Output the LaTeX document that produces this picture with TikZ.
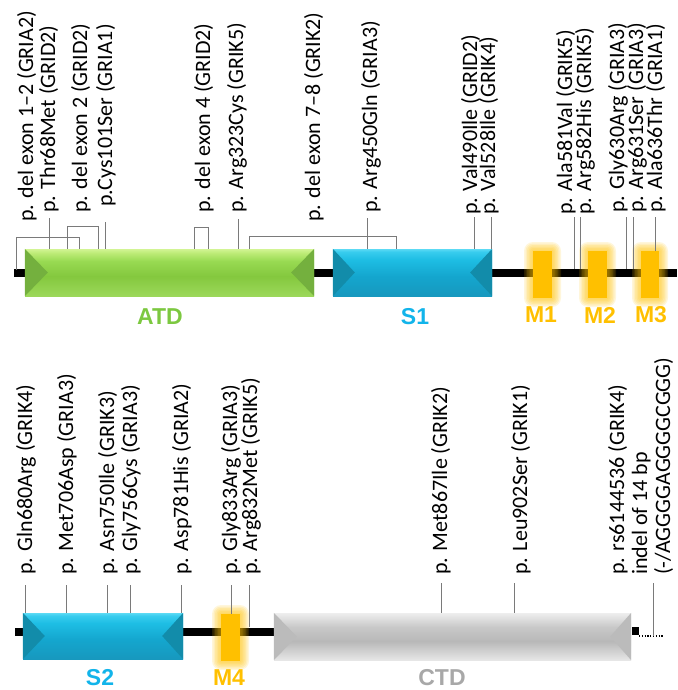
\documentclass[tikz,border=0pt]{standalone}
\usepackage{fontspec}
\setmainfont{Carlito}
\newfontfamily\domfont{Liberation Sans}
\definecolor{atdT}{HTML}{74B03E}
\definecolor{atdTxt}{HTML}{7CC840}
\definecolor{sT}{HTML}{128CAA}
\definecolor{sTxt}{HTML}{12B4EA}
\definecolor{mOr}{HTML}{FFC000}
\definecolor{ctdT}{HTML}{BBBBBB}
\definecolor{ctdTxt}{HTML}{A8A8A8}
\definecolor{leadc}{HTML}{7A7A7A}
\definecolor{atdB}{HTML}{9CD85A}
\definecolor{atdD}{HTML}{84C83E}
\definecolor{atdM}{HTML}{98DA52}
\definecolor{atdL}{HTML}{BEEC78}
\definecolor{atdT2}{HTML}{D2F494}
\definecolor{sB}{HTML}{1798BE}
\definecolor{sD}{HTML}{14A6CE}
\definecolor{sM}{HTML}{1EBEE4}
\definecolor{sL}{HTML}{38CCEE}
\definecolor{sL2}{HTML}{5CDAF4}
\definecolor{cB}{HTML}{E6E6E6}
\definecolor{cD}{HTML}{B8B8B8}
\definecolor{cM}{HTML}{C8C8C8}
\definecolor{cL}{HTML}{EEEEEE}
\pgfdeclareverticalshading{atdsh}{100bp}{color(0bp)=(atdB); color(25bp)=(atdB); color(46bp)=(atdD); color(62bp)=(atdM); color(71bp)=(atdL); color(75bp)=(atdT2); color(100bp)=(atdT2)}
\pgfdeclareverticalshading{ssh}{100bp}{color(0bp)=(sB); color(25bp)=(sB); color(46bp)=(sD); color(64bp)=(sM); color(72bp)=(sL); color(75bp)=(sL2); color(100bp)=(sL2)}
\pgfdeclareverticalshading{ctdsh}{100bp}{color(0bp)=(cB); color(25bp)=(cB); color(45bp)=(cD); color(60bp)=(cM); color(75bp)=(cL); color(100bp)=(cL)}
\begin{document}
\begin{tikzpicture}[x=1pt,y=-1pt,
  lab/.style={rotate=90, anchor=base west, inner sep=0pt, font=\fontsize{22pt}{22pt}\selectfont},
  leader/.style={draw=leadc, line width=1pt},
  backbone/.style={line width=8pt, black},
  dom/.style={font=\domfont\bfseries\fontsize{23pt}{23pt}\selectfont, inner sep=0pt},
  box/.style={rectangle, inner sep=0pt, draw=none},
  glow/.style={fill=mOr, opacity=0.14}]
\useasboundingbox (0,0) rectangle (677,690);
% ---------------- top backbone ----------------
\draw[backbone] (14,273) -- (677,273);
% ATD
\node[box, minimum width=289pt, minimum height=47pt, shading=atdsh] (atd) at (169.5,272.5) {};
\fill[atdT] (atd.north west) -- (atd.south west) -- ([xshift=23pt]atd.west) -- cycle;
\fill[atdT] (atd.north east) -- (atd.south east) -- ([xshift=-23pt]atd.east) -- cycle;
% S1
\node[box, minimum width=159pt, minimum height=47pt, shading=ssh] (s1) at (412.5,272.5) {};
\fill[sT] (s1.north west) -- (s1.south west) -- ([xshift=22pt]s1.west) -- cycle;
\fill[sT] (s1.north east) -- (s1.south east) -- ([xshift=-22pt]s1.east) -- cycle;
% M1-M3
\foreach \nm/\cx/\w in {m1/542.5/19, m2/597.5/19, m3/650/18}{
  \foreach \g in {9,7.5,6,4.5,3,1.5}{
    \fill[glow, rounded corners=\g pt] (\cx-\w/2-\g,251-\g) rectangle (\cx+\w/2+\g,298+\g);
  }
  \node[box, fill=mOr, minimum width=\w pt, minimum height=47pt] (\nm) at (\cx,274.5) {};
}
% domain labels top
\node[dom, text=atdTxt] (tatd) at (160,317) {ATD};
\node[dom, text=sTxt] (ts1) at (415,317) {S1};
\node[dom, text=mOr] (tm1) at (541,315) {M1};
\node[dom, text=mOr] (tm2) at (600,315) {M2};
\node[dom, text=mOr] (tm3) at (651,315) {M3};
% top labels
\node[lab] (l1) at (33,222) {p. del exon 1--2 (GRIA2)};
\node[lab] (l2) at (55,213) {p. Thr68Met (GRID2)};
\node[lab] (l3) at (87,213) {p. del exon 2 (GRID2)};
\node[lab] (l4) at (112,207) {p.Cys101Ser (GRIA1)};
\node[lab] (l5) at (210,213) {p. del exon 4 (GRID2)};
\node[lab] (l6) at (243,213) {p. Arg323Cys (GRIK5)};
\node[lab] (l7) at (320,222) {p. del exon 7--8 (GRIK2)};
\node[lab] (l8) at (377,213) {p. Arg450Gln (GRIA3)};
\node[lab] (l9) at (477,215) {p. Val490Ile (GRID2)};
\node[lab] (l10) at (495,215) {p. Val528Ile (GRIK4)};
\node[lab] (l11) at (572,215) {p. Ala581Val (GRIK5)};
\node[lab] (l12) at (591,215) {p. Arg582His (GRIK5)};
\node[lab] (l13) at (624,213) {p. Gly630Arg (GRIA3)};
\node[lab] (l14) at (643,213) {p. Arg631Ser (GRIA3)};
\node[lab] (l15) at (662,213) {p. Ala636Thr (GRIA1)};
% top leaders
\draw[leader] (16,270) |- (79,237) -- (79,237 |- atd.north);
\draw[leader] (49,218) -- (49,218 |- atd.north);
\draw[leader] (67,249) |- (98,226) -- (98,226 |- atd.north);
\draw[leader] (105,222) -- (105,222 |- atd.north);
\draw[leader] (194,249) |- (208,227) -- (208,227 |- atd.north);
\draw[leader] (238,219) -- (238,219 |- atd.north);
\draw[leader] (249,249) |- (396,236) -- (396,236 |- s1.north);
\draw[leader] (367,218) -- (367,218 |- s1.north);
\draw[leader] (474,217) -- (474,217 |- s1.north);
\draw[leader] (491.5,217) -- (491.5,217 |- s1.north);
\draw[leader] (574,217) -- (574,269);
\draw[leader] (580,217) -- (580,269);
\draw[leader] (626,217) -- (626,269);
\draw[leader] (633,217) -- (633,269);
\draw[leader] (655,217) -- (655,217 |- m3.north);
% ---------------- bottom backbone ----------------
\draw[backbone] (15,631.5) -- (276,631.5);
% S2
\node[box, minimum width=160pt, minimum height=46pt, shading=ssh] (s2) at (103,636) {};
\fill[sT] (s2.north west) -- (s2.south west) -- ([xshift=22pt]s2.west) -- cycle;
\fill[sT] (s2.north east) -- (s2.south east) -- ([xshift=-21pt]s2.east) -- cycle;
% M4
\foreach \g in {9,7.5,6,4.5,3,1.5}{
  \fill[glow, rounded corners=\g pt] (221-\g,614-\g) rectangle (240+\g,661+\g);
}
\node[box, fill=mOr, minimum width=19pt, minimum height=47pt] (m4) at (230.5,637.5) {};
% CTD
\node[box, minimum width=357pt, minimum height=47pt, shading=ctdsh] (ctd) at (452.5,636.5) {};
\fill[ctdT] (ctd.north west) -- (ctd.south west) -- ([xshift=23pt]ctd.west) -- cycle;
\fill[ctdT] (ctd.north east) -- (ctd.south east) -- ([xshift=-21pt]ctd.east) -- cycle;
\fill[black] (632,627) rectangle (639,635);
\coordinate (dotend) at (663,636);
\draw[line width=1.1pt, dash pattern=on 1.2pt off 1.6pt] (639,636) -- (dotend);
% domain labels bottom
\node[dom, text=sTxt] (ts2) at (100,678) {S2};
\node[dom, text=mOr] (tm4) at (229,678) {M4};
\node[dom, text=ctdTxt] (tctd) at (442,678) {CTD};
% bottom labels
\node[lab] (b1) at (32,575) {p. Gln680Arg (GRIK4)};
\node[lab] (b2) at (73,575) {p. Met706Asp (GRIA3)};
\node[lab] (b3) at (114,575) {p. Asn750Ile (GRIK3)};
\node[lab] (b4) at (137,575) {p. Gly756Cys (GRIA3)};
\node[lab] (b5) at (188,575) {p. Asp781His (GRIA2)};
\node[lab] (b6) at (237,575) {p. Gly833Arg (GRIA3)};
\node[lab] (b7) at (257,575) {p. Arg832Met (GRIK5)};
\node[lab] (b8) at (447,575) {p. Met867Ile (GRIK2)};
\node[lab] (b9) at (527,575) {p. Leu902Ser (GRIK1)};
\node[lab] (b10) at (624,575) {p. rs6144536 (GRIK4)};
\node[lab] (b11) at (647,575) {indel of 14 bp};
\node[lab] (b12) at (670,575) {(-/AGGGGAGGGGCGGG)};
% bottom leaders
\draw[leader] (25,585) -- (25,585 |- s2.north);
\draw[leader] (66,585) -- (66,585 |- s2.north);
\draw[leader] (107,585) -- (107,585 |- s2.north);
\draw[leader] (130,585) -- (130,585 |- s2.north);
\draw[leader] (181,585) -- (181,585 |- s2.north);
\draw[leader] (231,585) -- (231,585 |- m4.north);
\draw[leader] (249,585) -- (249,627);
\draw[leader] (441,583) -- (441,583 |- ctd.north);
\draw[leader] (514,583) -- (514,583 |- ctd.north);
\draw[leader] (653,583) -- (653,583 |- dotend);
\end{tikzpicture}
\end{document}
